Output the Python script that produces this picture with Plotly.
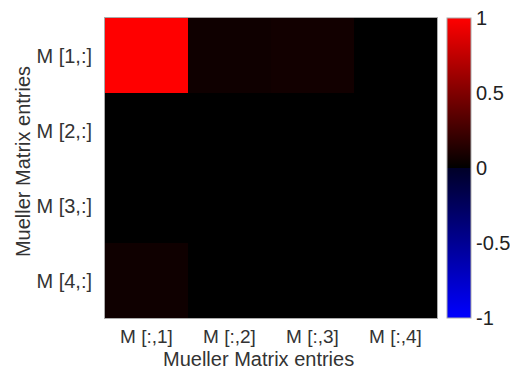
import plotly.graph_objects as go

col_labels = ["M [:,1]", "M [:,2]", "M [:,3]", "M [:,4]"]
row_labels = ["M [1,:]", "M [2,:]", "M [3,:]", "M [4,:]"]
values = [
    [1.00, 0.06, 0.07, 0.00],
    [0.00, 0.00, 0.00, 0.00],
    [0.00, 0.00, 0.00, 0.00],
    [0.06, 0.00, 0.00, 0.00],
]
cbar_ticks = [-1, -0.5, 0, 0.5, 1]
cbar_text = ["-1", "-0.5", "0", "0.5", "1"]
axis_title = "Mueller Matrix entries"

colorscale = [
    [0.0, "rgb(0,0,255)"],
    [0.499, "rgb(0,0,40)"],
    [0.5, "rgb(0,0,0)"],
    [1.0, "rgb(255,0,0)"],
]

fig = go.Figure(go.Heatmap(
    z=values, x=col_labels, y=row_labels,
    zmin=-1, zmax=1, colorscale=colorscale,
    xgap=0, ygap=0,
    colorbar=dict(
        tickvals=cbar_ticks, ticktext=cbar_text,
        x=1.03, xanchor="left", y=0.5, yanchor="middle",
        len=1.0, lenmode="fraction", thickness=24,
        outlinewidth=1, outlinecolor="#aaaaaa",
        ticks="", ticklen=0, tickfont=dict(size=20, color="#222222"),
        ticklabeloverflow="allow",
        ypad=0, xpad=0,
    ),
))

fig.update_layout(
    width=510, height=366,
    margin=dict(l=97, r=81, t=10, b=56),
    paper_bgcolor="white", plot_bgcolor="black",
    font=dict(family="Liberation Sans, Arial, sans-serif", color="#333333"),
    xaxis=dict(
        tickfont=dict(size=19), showgrid=False, zeroline=False,
        showline=True, linecolor="#aaaaaa", mirror=True, ticks="",
        ticklabelstandoff=1,
    ),
    yaxis=dict(
        tickfont=dict(size=20), showgrid=False, zeroline=False,
        autorange="reversed",
        showline=True, linecolor="#aaaaaa", mirror=True, ticks="",
        ticklabelstandoff=8,
    ),
    annotations=[
        dict(text=axis_title, xref="paper", yref="paper", x=0.461, y=-0.137,
             xanchor="center", yanchor="middle", showarrow=False,
             font=dict(size=20, color="#333333")),
        dict(text=axis_title, xref="paper", yref="paper", x=-0.247, y=0.523,
             xanchor="center", yanchor="middle", showarrow=False, textangle=-90,
             font=dict(size=20, color="#333333")),
    ],
)

fig.write_html("out.html")
